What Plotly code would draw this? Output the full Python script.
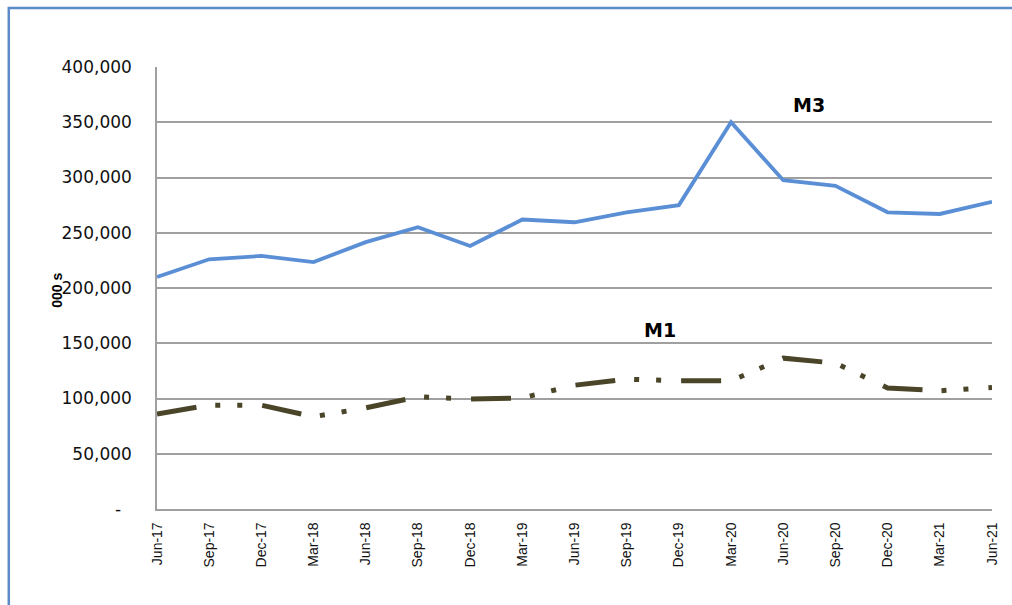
import plotly.graph_objects as go

quarters = ["Jun-17", "Sep-17", "Dec-17", "Mar-18", "Jun-18", "Sep-18", "Dec-18", "Mar-19",
            "Jun-19", "Sep-19", "Dec-19", "Mar-20", "Jun-20", "Sep-20", "Dec-20", "Mar-21", "Jun-21"]
m3 = [210000, 226000, 229000, 223500, 241500, 255000, 238000, 262000,
      259500, 268500, 275000, 350000, 297500, 292500, 268500, 267000, 278000]
m1 = [86000, 94000, 94000, 83500, 91500, 101500, 99500, 100500,
      112000, 117500, 116000, 116000, 136500, 132000, 109500, 107000, 110000]
y_ticks = [0, 50000, 100000, 150000, 200000, 250000, 300000, 350000, 400000]
y_labels = ["-\u00a0\u00a0", "50,000", "100,000", "150,000", "200,000", "250,000", "300,000", "350,000", "400,000"]

xpos = list(range(len(quarters)))

fig = go.Figure()
fig.add_trace(go.Scatter(x=xpos, y=m3, mode="lines", name="M3",
                         line=dict(color="#5A8FD6", width=3.8)))
fig.add_trace(go.Scatter(x=xpos, y=m1, mode="lines", name="M1",
                         line=dict(color="#4A4528", width=5,
                                   dash="40px,19px,5px,17px,5px,20px")))

fig.add_annotation(x=12.5, y=366000, text="<b>M3</b>", showarrow=False,
                   font=dict(family="DejaVu Sans", size=19, color="#000000"))
fig.add_annotation(x=9.63, y=162000, text="<b>M1</b>", showarrow=False,
                   font=dict(family="DejaVu Sans", size=19, color="#000000"))
fig.add_annotation(xref="paper", yref="paper", x=-0.119, y=0.495, text="<b>000 s</b>",
                   xanchor="center", yanchor="middle",
                   textangle=-90, showarrow=False,
                   font=dict(family="Liberation Sans", size=14, color="#000000"))

# outer chart frame
fig.add_shape(type="rect", xref="paper", yref="paper",
              x0=-0.1775, x1=1.2, y0=-0.4, y1=1.1335,
              line=dict(color="#5B8BC9", width=2.5), fillcolor="rgba(0,0,0,0)", layer="below")

fig.update_layout(
    width=1012, height=605,
    margin=dict(l=157, r=12, t=67, b=96),
    paper_bgcolor="white", plot_bgcolor="white",
    showlegend=False,
    xaxis=dict(range=[0, 16], tickmode="array", tickvals=xpos, ticktext=quarters,
               tickangle=-90, showgrid=False, zeroline=False,
               showline=True, linecolor="#A0A0A0", linewidth=1.5,
               ticks="", ticklabelstandoff=6,
               tickfont=dict(family="Liberation Sans", size=14, color="#111111")),
    yaxis=dict(range=[0, 400000], tickmode="array", tickvals=y_ticks, ticktext=y_labels,
               showgrid=True, gridcolor="#A0A0A0", gridwidth=1.5, zeroline=False,
               showline=True, linecolor="#A0A0A0", linewidth=1.5,
               ticks="", ticklabelstandoff=20,
               tickfont=dict(family="DejaVu Sans", size=17, color="#111111")),
)

fig.write_html("out.html", config={"displayModeBar": False},
               post_script="document.body.style.margin='0px';document.body.style.overflow='hidden';")
